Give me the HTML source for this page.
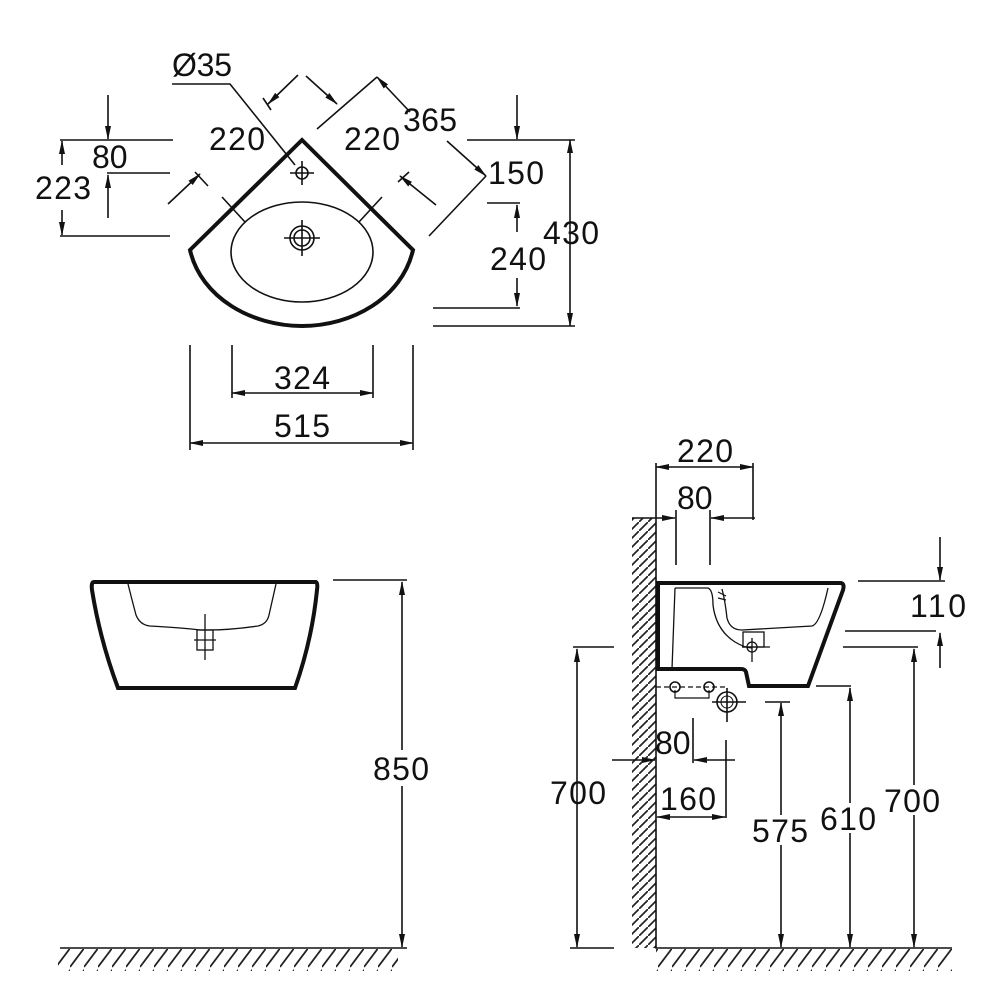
<!DOCTYPE html>
<html><head><meta charset="utf-8"><style>
html,body{margin:0;padding:0;background:#fff}
svg{display:block}
text{font-family:"Liberation Sans",sans-serif;font-size:32px;fill:#111}
</style></head><body>
<svg width="1000" height="1000" viewBox="0 0 1000 1000" xmlns="http://www.w3.org/2000/svg">
<defs>
<marker id="a" markerWidth="14" markerHeight="8" refX="13" refY="4" orient="auto" markerUnits="userSpaceOnUse"><path d="M0,1 L14,4 L0,7 Z" fill="#111"/></marker>
<marker id="b" markerWidth="14" markerHeight="8" refX="1" refY="4" orient="auto" markerUnits="userSpaceOnUse"><path d="M14,1 L0,4 L14,7 Z" fill="#111"/></marker>
<pattern id="h" width="9" height="9" patternUnits="userSpaceOnUse"><path d="M0,9 L9,0" stroke="#222" stroke-width="1.7"/></pattern>
<pattern id="f" width="14" height="22" patternUnits="userSpaceOnUse"><path d="M0,21 L15,1" stroke="#222" stroke-width="1.8"/></pattern>
</defs>
<g stroke="#111" fill="none" stroke-width="1.6">
<!-- TOP VIEW -->
<path d="M190,250 L302,140 L413,250 C402,298 352,326 302,326 C252,326 201,298 190,250 Z" stroke-width="4"/>
<ellipse cx="302" cy="252" rx="71" ry="50"/>
<circle cx="302" cy="173" r="6"/><path d="M290,173 H314 M302,161 V185"/>
<circle cx="302" cy="238" r="12"/><circle cx="302" cy="238" r="8"/><path d="M284,238 H320 M302,220 V256"/>
<path d="M172,84 H230 L295,165"/>
<path d="M222,197 L245,222 M382,197 L359,222"/>
<path d="M298,75 L268,104" marker-end="url(#a)"/><path d="M263,98 L271,110"/>
<path d="M306,76 L337,104" marker-end="url(#a)"/>
<path d="M317,129 L377,77"/>
<path d="M377,77 L410,112" marker-start="url(#b)"/>
<path d="M447,141 L486,176" marker-end="url(#a)"/>
<path d="M486,176 L429,236"/>
<path d="M168,204 L200,174" marker-end="url(#a)"/><path d="M195,172 L208,186"/>
<path d="M436,205 L400,176" marker-end="url(#a)"/><path d="M398,182 L409,172"/>
<path d="M60,140 H173 M107,173 H170 M60,236 H170"/>
<path d="M62,165 V141" marker-end="url(#a)"/><path d="M62,210 V235" marker-end="url(#a)"/>
<path d="M108,95 V139" marker-end="url(#a)"/><path d="M108,218 V175" marker-end="url(#a)"/>
<path d="M467,140 H575 M487,203 H520 M433,308 H520 M433,326 H575"/>
<path d="M517,95 V139" marker-end="url(#a)"/>
<path d="M570,140 V326" marker-start="url(#b)" marker-end="url(#a)"/>
<path d="M517,232 V205" marker-end="url(#a)"/><path d="M517,278 V306" marker-end="url(#a)"/>
<path d="M190,345 V450 M413,345 V450 M232,345 V398 M373,345 V398"/>
<path d="M232,393 H373" marker-start="url(#b)" marker-end="url(#a)"/>
<path d="M190,443 H413" marker-start="url(#b)" marker-end="url(#a)"/>
<!-- FRONT VIEW -->
<path d="M94,582 H316 Q318,583 317,590 Q312,640 295,688 H118 Q100,640 92,590 Q91,582 94,582 Z" stroke-width="4"/>
<path d="M128,584 Q132,600 136,615 Q140,625 150,626 Q185,628 200,630 L208,630 Q230,630 258,626 Q267,624 269,615 L276,584" stroke-width="1.3"/>
<rect x="197" y="630" width="16" height="20" stroke-width="1.3"/><path d="M205,614 V660 M194,640 H216" stroke-width="1.3"/>
<path d="M333,580 H407"/>
<path d="M402,786 V947" marker-end="url(#a)"/>
<path d="M402,750 V582" marker-end="url(#a)"/>
<path d="M60,948 H407"/>
<rect x="58" y="949" width="340" height="22" fill="url(#f)" stroke="none"/>
<!-- SIDE VIEW -->
<rect x="632" y="518" width="24" height="430" fill="url(#h)" stroke="none"/>
<path d="M656,518 V948 H952"/>
<rect x="656" y="949" width="296" height="22" fill="url(#f)" stroke="none"/>
<path d="M658,583 H840 Q845,583 843,590 L808,686 H749 L746,672 Q745,669 741,669 H658 Z" stroke-width="4"/>
<path d="M675,588 L672,669 M675,588 H708 Q713,590 713,605 Q716,630 735,642 Q745,648 752,648 M722,589 Q725,600 727,618 Q730,630 742,630 L812,626 Q820,624 828,588" stroke-width="1.3"/>
<path d="M718,592 L726,596 M718,598 L726,600" stroke-width="1.2"/>
<rect x="743" y="632" width="21" height="15" stroke-width="1.3"/><circle cx="752" cy="647" r="5" stroke-width="1.3"/><path d="M752,638 V662 M742,647 H770" stroke-width="1.3"/>
<path d="M656,687 H726" stroke-dasharray="5,3" stroke-width="1.2"/>
<circle cx="675" cy="687" r="5"/><circle cx="709" cy="687" r="5"/>
<circle cx="727" cy="702" r="10"/><circle cx="727" cy="702" r="6" stroke-width="1"/><path d="M712,702 H746 M727,688 V722"/>
<path d="M675,690 V698 H709 V690" stroke-width="1.2"/>
<path d="M656,463 V518 M753,463 V520"/>
<path d="M656,467 H753" marker-start="url(#b)" marker-end="url(#a)"/>
<path d="M676,510 V565 M710,510 V565"/>
<path d="M632,518 H675" marker-end="url(#a)"/><path d="M755,518 H711" marker-end="url(#a)"/>
<path d="M693,718 V763"/><path d="M735,760 H694" marker-end="url(#a)"/><path d="M612,760 H655" marker-end="url(#a)"/>
<path d="M726,740 V818"/><path d="M657,817 H725" marker-start="url(#b)" marker-end="url(#a)"/>
<path d="M765,702 H790"/><path d="M781,947 V703" marker-start="url(#b)" marker-end="url(#a)"/>
<path d="M816,686 H851"/><path d="M850,947 V688" marker-start="url(#b)" marker-end="url(#a)"/>
<path d="M843,647 H918"/><path d="M914,947 V649" marker-start="url(#b)" marker-end="url(#a)"/>
<path d="M858,581 H945 M845,631 H936"/>
<path d="M940,537 V580" marker-end="url(#a)"/><path d="M940,668 V633" marker-end="url(#a)"/>
<path d="M573,647 H614 M570,948 H614"/>
<path d="M577,947 V649" marker-start="url(#b)" marker-end="url(#a)"/>
</g>
<g>
<text x="172" y="76" textLength="60">Ø35</text>
<text x="209" y="150" textLength="56">220</text>
<text x="344" y="150" textLength="56">220</text>
<text x="403" y="131" textLength="54">365</text>
<text x="488" y="184" textLength="56">150</text>
<text x="92" y="168">80</text>
<text x="35" y="199" textLength="56">223</text>
<text x="543" y="244" textLength="56">430</text>
<text x="490" y="270" textLength="56">240</text>
<text x="274" y="389" textLength="56">324</text>
<text x="274" y="437" textLength="56">515</text>
<rect x="385" y="752" width="34" height="30" fill="#fff"/>
<text x="373" y="780" textLength="56">850</text>
<text x="677" y="462" textLength="56">220</text>
<text x="677" y="509">80</text>
<text x="910" y="617" textLength="56">110</text>
<text x="550" y="804" textLength="56">700</text>
<text x="655" y="754">80</text>
<text x="660" y="810" textLength="56">160</text>
<rect x="766" y="815" width="30" height="30" fill="#fff"/>
<text x="752" y="842" textLength="56">575</text>
<rect x="836" y="803" width="30" height="30" fill="#fff"/>
<text x="820" y="830" textLength="56">610</text>
<rect x="900" y="785" width="30" height="30" fill="#fff"/>
<text x="884" y="812" textLength="56">700</text>
</g>
</svg>
</body></html>
